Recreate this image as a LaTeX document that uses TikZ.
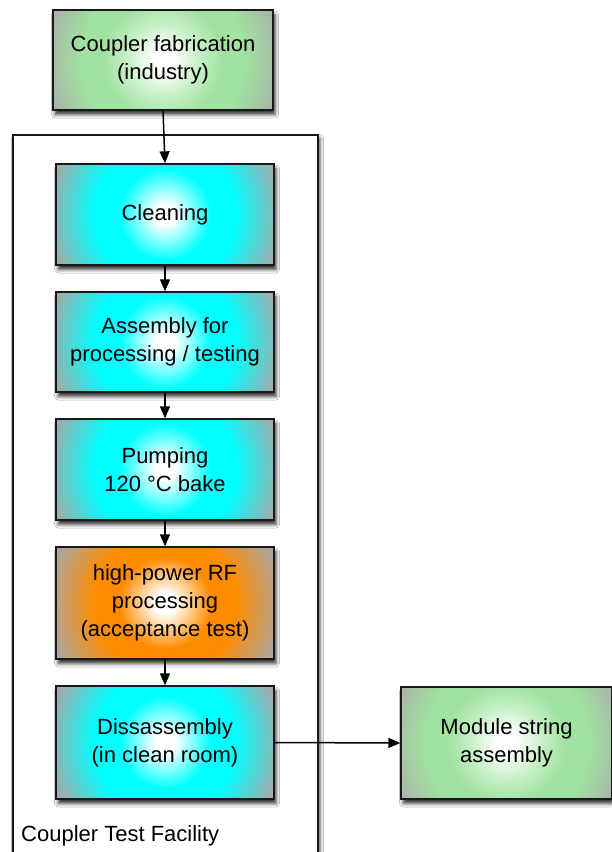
\documentclass[tikz,border=0pt]{standalone}
\usepackage{fontspec}
\setmainfont{Liberation Sans}
\usetikzlibrary{arrows.meta,shadows.blur}

\definecolor{cyanmid}{RGB}{0,255,255}
\definecolor{cyanedge}{RGB}{165,170,170}
\definecolor{greenlight}{RGB}{200,240,200}
\definecolor{greenmid}{RGB}{160,226,160}
\definecolor{greenedge}{RGB}{168,180,168}
\definecolor{orangemid}{RGB}{255,140,0}
\definecolor{orangeedge}{RGB}{172,166,160}
\definecolor{borderc}{RGB}{25,25,25}

\pgfdeclareradialshading{cyanball}{\pgfpoint{0bp}{0bp}}{color(0bp)=(white); color(10bp)=(white); color(46bp)=(cyanmid); color(70bp)=(cyanmid); color(118bp)=(cyanedge); color(125bp)=(cyanedge)}
\pgfdeclareradialshading{greenball}{\pgfpoint{0bp}{0bp}}{color(0bp)=(white); color(10bp)=(white); color(35bp)=(greenlight); color(60bp)=(greenmid); color(82bp)=(greenmid); color(118bp)=(greenedge); color(125bp)=(greenedge)}
\pgfdeclareradialshading{orangeball}{\pgfpoint{0bp}{0bp}}{color(0bp)=(white); color(10bp)=(white); color(46bp)=(orangemid); color(70bp)=(orangemid); color(118bp)=(orangeedge); color(125bp)=(orangeedge)}

\tikzset{
  box/.style={draw=borderc, line width=1.3pt, align=center, inner sep=0pt,
    font=\fontsize{22}{28}\selectfont,
    blur shadow={shadow xshift=2pt, shadow yshift=-4.5pt, shadow blur radius=3.5pt, shadow opacity=80}},
  cyanbox/.style={box, path picture={\node[inner sep=0pt] at (path picture bounding box.center) {\pgfuseshading{cyanball}};}},
  greenbox/.style={box, path picture={\node[inner sep=0pt] at (path picture bounding box.center) {\pgfuseshading{greenball}};}},
  orangebox/.style={box, path picture={\node[inner sep=0pt] at (path picture bounding box.center) {\pgfuseshading{orangeball}};}},
  arr/.style={draw=black, line width=1.5pt, -{Triangle[length=12pt,width=10pt]}},
  container/.style={draw=borderc, line width=1.3pt, fill=white, inner sep=0pt,
    blur shadow={shadow xshift=2pt, shadow yshift=-3pt, shadow blur radius=3.5pt, shadow opacity=70}}
}

\begin{document}
\begin{tikzpicture}[x=1pt,y=-1pt]
\useasboundingbox[fill=white] (0,0) rectangle (611,852);

\node[container, minimum width=305pt, minimum height=760pt] (ctf) at (165.5,515) {};
\node[anchor=base west, font=\fontsize{22}{27}\selectfont, inner sep=0pt] (ctflabel) at (21,841) {Coupler Test Facility};

\node[greenbox, minimum width=220pt, minimum height=100pt] (fab) at (163,60) {Coupler fabrication\\(industry)};
\node[cyanbox, minimum width=218pt, minimum height=101pt] (clean) at (165,214.5) {Cleaning};
\node[cyanbox, minimum width=218pt, minimum height=100pt] (asm) at (165,342) {Assembly for\\processing / testing};
\node[cyanbox, minimum width=218pt, minimum height=101pt] (pump) at (165,469.5) {Pumping\\120 °C bake};
\node[orangebox, minimum width=218pt, minimum height=112pt] (rf) at (165,603) {high-power RF\\processing\\(acceptance test)};
\node[cyanbox, minimum width=218pt, minimum height=113pt] (dis) at (165,742.5) {Dissassembly\\(in clean room)};
\node[greenbox, minimum width=211pt, minimum height=112pt] (mod) at (506.5,743) {Module string\\assembly};

\draw[arr] (fab.south) -- (clean.north);
\draw[arr] (clean.south) -- (asm.north);
\draw[arr] (asm.south) -- (pump.north);
\draw[arr] (pump.south) -- (rf.north);
\draw[arr] (rf.south) -- (dis.north);
\draw[arr] (dis.east) -- (mod.west);
\end{tikzpicture}
\end{document}
